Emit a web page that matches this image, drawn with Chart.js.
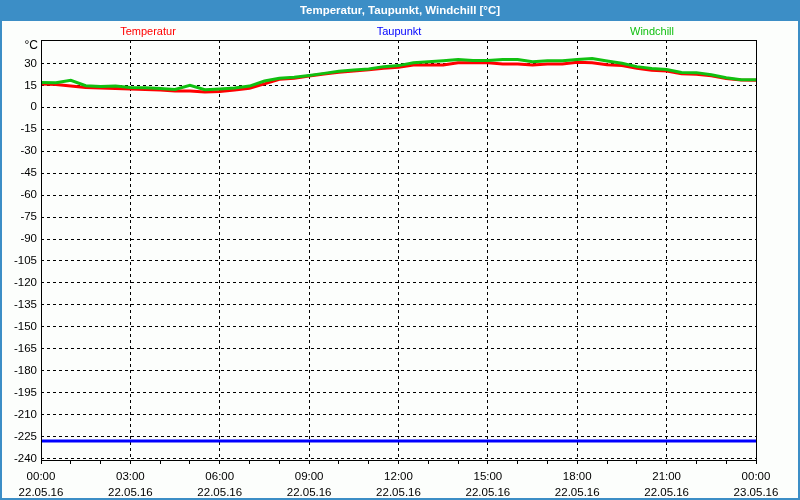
<!DOCTYPE html>
<html>
<head>
<meta charset="utf-8">
<script src="https://cdn.jsdelivr.net/npm/chart.js@4/dist/chart.umd.min.js"></script>
<style>
  html, body { margin: 0; padding: 0; background: #fcfefc; }
  canvas { display: block; }
</style>
</head>
<body>
<canvas id="chart" width="800" height="500"></canvas>
<script>
// ===== DATA =====
const hours = [0, 0.5, 1, 1.5, 2, 2.5, 3, 3.5, 4, 4.5, 5, 5.5, 6, 6.5, 7, 7.5, 8, 8.5, 9, 9.5, 10, 10.5, 11, 11.5,
    12, 12.5, 13, 13.5, 14, 14.5, 15, 15.5, 16, 16.5, 17, 17.5, 18, 18.5, 19, 19.5, 20, 20.5, 21, 21.5, 22, 22.5, 23, 23.5, 24];
const temperatur = [16, 15.6, 14.5, 13.5, 13.2, 12.8, 12.5, 12.1, 11.8, 11.2, 11.1, 10.4, 10.8, 11.8, 13, 16, 19.2, 19.8,
    21.4, 22.8, 24, 24.8, 25.6, 26.7, 27.4, 28.9, 28.9, 29, 30.5, 30.5, 30.5, 29.6, 29.6, 28.9, 29.6, 29.6, 30.8, 30.5,
    29.1, 28.5, 26.7, 25.3, 24.8, 23.0, 22.6, 21.6, 19.6, 18.6, 18.5];
const windchill = [17, 16.8, 18.5, 14.8, 14.3, 14.5, 13.5, 13.3, 12.8, 12.2, 15, 12, 12.5, 13.2, 14.5, 18, 19.8, 20.5,
    21.8, 23.2, 24.6, 25.5, 26.2, 27.8, 28.5, 30.5, 31.2, 31.9, 32.6, 32, 32, 32.6, 32.6, 31.2, 31.9, 31.9, 32.6, 33.3,
    31.6, 30.1, 27.8, 26.5, 25.8, 23.8, 23.7, 22.3, 20.2, 18.9, 18.9];
const taupunktHours = [0, 24];
const taupunkt = [-228, -228];

const seriesNames = ['Temperatur', 'Taupunkt', 'Windchill'];
const xTicks = [0, 1, 2, 3, 4, 5, 6, 7, 8, 9, 10, 11, 12, 13, 14, 15, 16, 17, 18, 19, 20, 21, 22, 23, 24];
const tickTimes = ['00:00', '03:00', '06:00', '09:00', '12:00', '15:00', '18:00', '21:00', '00:00'];
const tickDates = ['22.05.16', '22.05.16', '22.05.16', '22.05.16', '22.05.16', '22.05.16', '22.05.16', '22.05.16', '23.05.16'];
const yTicks = [30, 15, 0, -15, -30, -45, -60, -75, -90, -105, -120, -135, -150, -165, -180, -195, -210, -225, -240];

const RED = '#ff0000', BLUE = '#0000ff', GREEN = '#10c010';
const FONT = '"Liberation Sans", Arial, sans-serif';

// title bar, frame, legend labels
const framePlugin = {
    id: 'frame',
    beforeDraw(chart) {
        const c = chart.ctx;
        c.save();
        c.fillStyle = '#fcfefc';
        c.fillRect(0, 0, chart.width, chart.height);
        c.fillStyle = '#3c8ec6';
        c.fillRect(0, 0, chart.width, 21);
        c.fillStyle = '#ffffff';
        c.font = 'bold 11.5px ' + FONT;
        c.textAlign = 'center';
        c.textBaseline = 'middle';
        c.fillText('Temperatur, Taupunkt, Windchill [°C]', 400, 11);

        c.font = '11px ' + FONT;
        const pos = [148, 399, 652];
        const cols = [RED, BLUE, GREEN];
        seriesNames.forEach((n, i) => {
            c.fillStyle = cols[i];
            c.fillText(n, pos[i], 32);
        });
        c.fillStyle = '#000';
        c.font = '12px ' + FONT;
        c.textAlign = 'right';
        c.fillText('°C', 38, 46);
        c.restore();
    },
    afterDraw(chart) {
        const c = chart.ctx, a = chart.chartArea;
        c.save();
        c.strokeStyle = '#000';
        c.lineWidth = 1;
        c.strokeRect(Math.round(a.left) + 0.5, Math.round(a.top) + 0.5, Math.round(a.right - a.left), Math.round(a.bottom - a.top));
        c.strokeStyle = '#3c8ec6';
        c.lineWidth = 2;
        c.strokeRect(1, 1, chart.width - 2, chart.height - 2);
        c.restore();
    }
};

const xy = (xs, ys) => xs.map((x, i) => ({ x, y: ys[i] }));

new Chart(document.getElementById('chart'), {
    type: 'line',
    data: {
        datasets: [
            // lower order is painted on top: windchill over temperatur
            { label: seriesNames[0], data: xy(hours, temperatur), borderColor: RED, borderWidth: 3, order: 2 },
            { label: seriesNames[1], data: xy(taupunktHours, taupunkt), borderColor: BLUE, borderWidth: 3, order: 1 },
            { label: seriesNames[2], data: xy(hours, windchill), borderColor: GREEN, borderWidth: 3, order: 0 },
        ]
    },
    options: {
        responsive: false,
        devicePixelRatio: 1,
        animation: false,
        layout: { padding: { top: 40, right: 44, left: 0, bottom: 0 } },
        elements: { point: { radius: 0 }, line: { tension: 0, borderCapStyle: 'butt' } },
        plugins: { legend: { display: false }, title: { display: false }, tooltip: { enabled: false } },
        scales: {
            x: {
                type: 'linear',
                min: 0,
                max: 24,
                afterBuildTicks: s => { s.ticks = xTicks.map(v => ({ value: v })); },
                afterFit: s => { s.height = 40; },
                border: { display: false, dash: [3, 3] },
                grid: {
                    color: ctx => (ctx.tick && ctx.tick.value % 3 === 0 && ctx.tick.value > 0 && ctx.tick.value < 24) ? '#000' : 'rgba(0,0,0,0)',
                    tickColor: '#000',
                    tickLength: 4,
                    lineWidth: 1,
                },
                ticks: {
                    autoSkip: false,
                    maxRotation: 0,
                    padding: 4,
                    color: '#000',
                    font: { family: FONT, size: 11.5, lineHeight: 1.45 },
                    callback: v => v % 3 === 0 ? [tickTimes[v / 3], tickDates[v / 3]] : ''
                }
            },
            y: {
                min: -241,
                max: 46,
                afterBuildTicks: s => { s.ticks = yTicks.map(v => ({ value: v })); },
                afterFit: s => { s.width = 41; },
                border: { display: false, dash: [3, 3] },
                grid: { color: '#000', lineWidth: 1, drawTicks: false },
                ticks: {
                    padding: 4,
                    color: '#000',
                    font: { family: FONT, size: 11.5 },
                }
            }
        }
    },
    plugins: [framePlugin]
});
</script>
</body>
</html>
